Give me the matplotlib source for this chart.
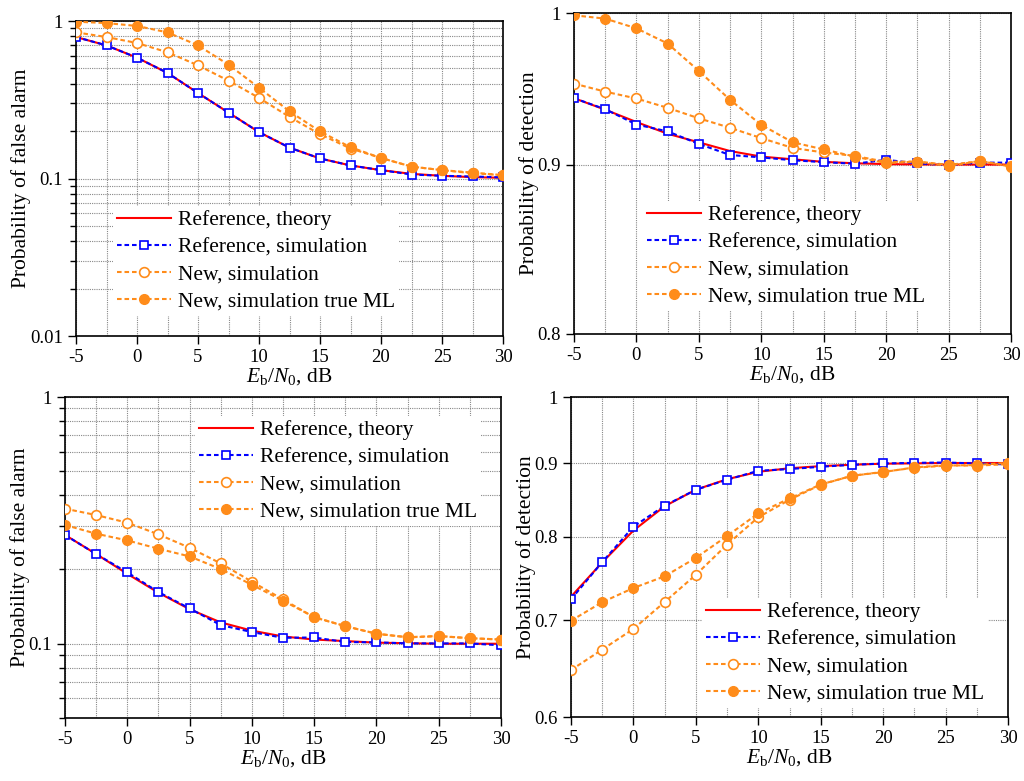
import matplotlib
matplotlib.use("Agg")
import matplotlib.pyplot as plt
from matplotlib.ticker import FixedLocator, NullFormatter, NullLocator

plt.rcParams['font.family'] = ['Liberation Serif', 'DejaVu Serif']
plt.rcParams['mathtext.fontset'] = 'custom'
plt.rcParams['mathtext.rm'] = 'Liberation Serif'
plt.rcParams['mathtext.it'] = 'Liberation Serif:italic'

ebn0 = [-5, -2.5, 0, 2.5, 5, 7.5, 10, 12.5, 15, 17.5, 20, 22.5, 25, 27.5, 30]

# top left: false alarm
pfa1_theory = [0.791, 0.70, 0.585, 0.468, 0.349, 0.262, 0.197, 0.157, 0.134, 0.121, 0.113, 0.107, 0.104, 0.102, 0.101]
pfa1_refsim = [0.791, 0.70, 0.585, 0.468, 0.349, 0.262, 0.197, 0.157, 0.134, 0.121, 0.113, 0.106, 0.104, 0.103, 0.1016]
pfa1_new = [0.847, 0.791, 0.725, 0.633, 0.523, 0.418, 0.325, 0.246, 0.191, 0.155, 0.135, 0.119, 0.113, 0.108, 0.105]
pfa1_ml = [0.99, 0.97, 0.93, 0.847, 0.70, 0.528, 0.377, 0.267, 0.199, 0.158, 0.135, 0.119, 0.113, 0.109, 0.105]

# top right: detection
pd1_theory = [0.9425, 0.935, 0.927, 0.9195, 0.914, 0.9085, 0.905, 0.9033, 0.9017, 0.9008, 0.9003, 0.9001, 0.9, 0.9, 0.9]
pd1_refsim = [0.9425, 0.9353, 0.9254, 0.921, 0.913, 0.906, 0.9045, 0.9027, 0.9015, 0.9005, 0.903, 0.9007, 0.8998, 0.9012, 0.9012]
pd1_new = [0.9521, 0.9468, 0.9423, 0.9362, 0.9294, 0.9233, 0.9167, 0.9105, 0.9076, 0.9054, 0.9017, 0.9019, 0.8998, 0.9021, 0.899]
pd1_ml = [0.9984, 0.9961, 0.9894, 0.979, 0.9605, 0.9414, 0.9252, 0.9141, 0.9095, 0.905, 0.9009, 0.9019, 0.899, 0.9023, 0.8987]

# bottom left: false alarm
pfa2_theory = [0.276, 0.231, 0.192, 0.161, 0.138, 0.122, 0.113, 0.107, 0.104, 0.1025, 0.101, 0.1005, 0.1, 0.1, 0.1]
pfa2_refsim = [0.2758, 0.2309, 0.1946, 0.162, 0.139, 0.119, 0.1115, 0.1057, 0.106, 0.1016, 0.1013, 0.1003, 0.1003, 0.1003, 0.0985]
pfa2_new = [0.3526, 0.3323, 0.3094, 0.2775, 0.2449, 0.2117, 0.1784, 0.1512, 0.128, 0.1177, 0.1098, 0.1063, 0.1075, 0.1053, 0.104]
pfa2_ml = [0.3028, 0.2792, 0.2623, 0.2427, 0.2259, 0.2008, 0.1734, 0.1494, 0.1282, 0.1179, 0.1098, 0.1061, 0.1073, 0.1053, 0.104]

# bottom right: detection
pd2_theory = [0.727, 0.768, 0.808, 0.840, 0.8625, 0.877, 0.8875, 0.8925, 0.8955, 0.8975, 0.899, 0.8995, 0.9, 0.9, 0.9]
pd2_refsim = [0.724, 0.7683, 0.8131, 0.8407, 0.8624, 0.8763, 0.8889, 0.8913, 0.8946, 0.8974, 0.8993, 0.9002, 0.9007, 0.8993, 0.898]
pd2_new = [0.6467, 0.6682, 0.6906, 0.7209, 0.7529, 0.7901, 0.8253, 0.8487, 0.8694, 0.8818, 0.887, 0.8937, 0.8967, 0.8962, 0.8984]
pd2_ml = [0.6997, 0.7207, 0.7372, 0.7511, 0.7735, 0.801, 0.8305, 0.8505, 0.8697, 0.8818, 0.8874, 0.8932, 0.8962, 0.8971, 0.9002]

labels = ["Reference, theory", "Reference, simulation", "New, simulation", "New, simulation true ML"]
orange = "#FF8C1A"
W, H = 1024, 781

fig = plt.figure(figsize=(W / 100, H / 100), dpi=100)


def px_axes(left, top, right, bottom):
    return fig.add_axes([left / W, 1 - bottom / H, (right - left) / W, (bottom - top) / H])


def panel(ax, theory, refsim, new, ml, ylim, majors, majlabels, minors, ylabel, leg_xy):
    ax.set_yscale('log')
    ax.plot(ebn0, theory, color='red', lw=1.5, zorder=3)
    ax.plot(ebn0, refsim, color='blue', lw=1.5, ls=(0, (2.2, 1.4)), marker='s', ms=6,
            mfc='white', mec='blue', mew=1.2, zorder=4)
    ax.plot(ebn0, new, color=orange, lw=1.5, ls=(0, (2.2, 1.4)), marker='o', ms=7,
            mfc='white', mec=orange, mew=1.2, zorder=4)
    ax.plot(ebn0, ml, color=orange, lw=1.5, ls=(0, (2.2, 1.4)), marker='o', ms=7,
            mfc=orange, mec=orange, zorder=4)
    ax.set_xlim(-5, 30)
    ax.set_ylim(*ylim)
    ax.set_xticks(range(-5, 31, 5))
    ax.set_xticklabels(['-5', '0', '5', '10', '15', '20', '25', '30'])
    ax.xaxis.set_minor_locator(FixedLocator([-2.5, 2.5, 7.5, 12.5, 17.5, 22.5, 27.5]))
    ax.yaxis.set_major_locator(FixedLocator(majors))
    ax.set_yticklabels(majlabels)
    if minors:
        ax.yaxis.set_minor_locator(FixedLocator(minors))
    else:
        ax.yaxis.set_minor_locator(NullLocator())
    ax.yaxis.set_minor_formatter(NullFormatter())
    ax.tick_params(axis='both', which='major', direction='out', labelsize=13.5, width=1, length=6)
    ax.tick_params(axis='x', which='minor', length=0)
    ax.tick_params(axis='y', which='minor', direction='out', length=4, width=1)
    ax.grid(True, which='both', color='#888888', lw=0.8, ls=(0, (1, 1)))
    for s in ax.spines.values():
        s.set_linewidth(1.2)
    ax.set_xlabel(r'$E_\mathrm{b}/N_0$, dB', fontsize=15.5, labelpad=0)
    ax.set_ylabel(ylabel, fontsize=15.5, labelpad=-1)
    leg = ax.legend(ax.lines, labels, loc='upper left', bbox_to_anchor=(leg_xy[0] / W, 1 - leg_xy[1] / H),
                    bbox_transform=fig.transFigure, fontsize=15.5, frameon=True, fancybox=False,
                    edgecolor='none', facecolor='white', framealpha=1, numpoints=1,
                    handlelength=2.5, handletextpad=0.3, labelspacing=0.32, borderpad=0.2,
                    borderaxespad=0)
    leg.set_zorder(5)


dec = [m * 10.0 ** e for e in (-2, -1) for m in range(2, 10)]

ax1 = px_axes(76, 21, 503, 336)
panel(ax1, pfa1_theory, pfa1_refsim, pfa1_new, pfa1_ml, (0.01, 1),
      [0.01, 0.1, 1], ['0.01', '0.1', '1'], dec, 'Probability of false alarm', (113, 206))

ax2 = px_axes(574, 13, 1011, 334)
panel(ax2, pd1_theory, pd1_refsim, pd1_new, pd1_ml, (0.8, 1),
      [0.8, 0.9, 1], ['0.8', '0.9', '1'], [], 'Probability of detection', (643, 201))

ax3 = px_axes(65, 397, 501, 718)
panel(ax3, pfa2_theory, pfa2_refsim, pfa2_new, pfa2_ml, (0.05, 1),
      [0.1, 1], ['0.1', '1'], [0.05, 0.06, 0.07, 0.08, 0.09] + [m / 10 for m in range(2, 10)],
      'Probability of false alarm', (195, 416))

ax4 = px_axes(571, 397, 1008, 717)
panel(ax4, pd2_theory, pd2_refsim, pd2_new, pd2_ml, (0.6, 1),
      [0.6, 0.7, 0.8, 0.9, 1], ['0.6', '0.7', '0.8', '0.9', '1'], [], 'Probability of detection', (702, 598))

fig.savefig('out.png', dpi=100)
